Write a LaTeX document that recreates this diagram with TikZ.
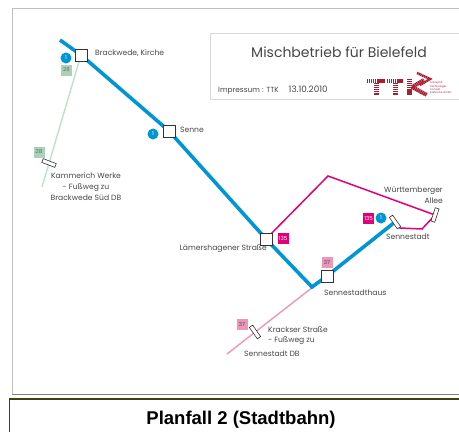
\documentclass[tikz,border=0pt]{standalone}
\usepackage{fontspec}
\setmainfont{Poppins}
\newfontfamily\headfont{Liberation Sans}
\definecolor{linieblau}{RGB}{0,150,214}
\definecolor{liniepink}{RGB}{226,0,122}
\definecolor{liniehell}{RGB}{236,150,185}
\definecolor{liniegruen}{RGB}{190,225,200}
\definecolor{schildgruen}{RGB}{170,210,185}
\definecolor{ttkrot}{RGB}{170,30,50}
\definecolor{textgrau}{RGB}{70,70,70}
\definecolor{rahmenoliv}{RGB}{64,64,10}
\tikzset{
  halt/.style={draw=black!80,fill=white,line width=0.8pt,minimum size=12pt,inner sep=0pt},
  endhalt/.style={draw=black!80,fill=white,line width=0.6pt,minimum width=14pt,minimum height=4pt,inner sep=0pt},
  linie/.style={circle,fill=linieblau,text=white,minimum size=11pt,inner sep=0pt,font=\fontsize{5.5}{5.5}\selectfont},
  schild/.style={minimum size=11pt,inner sep=0pt,font=\fontsize{5.5}{5.5}\selectfont},
  ort/.style={text=textgrau,font=\fontsize{7.6}{11}\selectfont,align=center,inner sep=0pt}
}
\begin{document}
\begin{tikzpicture}[x=1pt,y=-1pt]
\useasboundingbox (0,0) rectangle (459,432);
% Rahmen
\draw[black!25,line width=1.2pt] (459,8.5) -- (12.5,8.5) -- (12.5,394);
\draw[black!50,line width=0.9pt] (12,394) -- (459,394);
\node[draw=black!15,line width=0.7pt,minimum width=255pt,minimum height=66pt,inner sep=0pt] (titelbox) at (337.5,66) {};
\node[text=textgrau,font=\fontsize{14}{16}\selectfont,inner sep=0pt] (titel) at (339,52.5) {Mischbetrieb für Bielefeld};
\node[text=textgrau,font=\fontsize{7.4}{9}\selectfont,anchor=west,inner sep=0pt] (impressum) at (218,90.5) {Impressum : TTK\hspace{10pt}{\fontsize{8.8}{9}\selectfont 13.10.2010}};
% Logo
\begin{scope}[ttkrot,dash pattern=on 1.4pt off 0.5pt]
\draw[line width=4pt] (367,81) -- (385,81);
\draw[line width=5pt] (376,83) -- (376,95);
\draw[line width=4pt] (387,81) -- (403,81);
\draw[line width=5pt] (395,83) -- (395,95);
\draw[line width=5pt] (409,79) -- (409,95);
\draw[line width=4pt] (412,87) -- (427,95);
\draw[line width=4pt] (412,87) -- (424,80);
\draw[line width=2.5pt] (417,73) -- (430,79) -- (420,85);
\end{scope}
\node[text=ttkrot,font=\fontsize{2.6}{3.4}\selectfont,align=left,anchor=west,inner sep=0pt] (ttktext) at (430,88) {Transport\\Technologie-\\Consult\\Karlsruhe GmbH};
% Haltestellen
\coordinate (startblau) at (60,40);
\coordinate (knickblau) at (312,287);
\coordinate (endgruen) at (42,187);
\coordinate (endhell) at (227,354);
\coordinate (pinkoben) at (328,176);
\coordinate (pinkrechts) at (422,229);
\coordinate (pinklinks) at (400,228);
\coordinate (brackwede) at (81,55);
\coordinate (senne) at (169,131);
\coordinate (laemers) at (266,239);
\coordinate (haus) at (327,276);
\coordinate (sennestadt) at (395,222);
\coordinate (wuertt) at (435,215);
% Linien
\draw[liniegruen,line width=1.4pt] (brackwede) -- (endgruen);
\draw[liniehell,line width=1.4pt] (haus) -- (endhell);
\draw[liniepink,line width=1.5pt] (laemers) -- (pinkoben) -- (wuertt) -- (pinkrechts) -- (pinklinks) -- (sennestadt);
\draw[linieblau,line width=3.6pt] (startblau) -- (brackwede) -- (senne) -- (laemers) -- (knickblau) -- (haus) -- (sennestadt);
% Stationen
\node[halt] (hbrackwede) at (brackwede) {};
\node[halt] (hsenne) at (senne) {};
\node[halt] (hlaemers) at (laemers) {};
\node[halt] (hhaus) at (haus) {};
\node[endhalt,rotate=-21] (ekammerich) at (49,163) {};
\node[endhalt,rotate=-55] (esennestadt) at (395,222) {};
\node[endhalt,rotate=72] (ewuertt) at (435,215) {};
\node[endhalt,rotate=-55] (ekrackser) at (255,332) {};
% Liniennummern
\node[linie] (l1a) at (66,58) {1};
\node[linie] (l1b) at (153,134) {1};
\node[linie] (l1c) at (381,218) {1};
\node[schild,fill=schildgruen,text=black!60] (s28a) at (66.5,70) {28};
\node[schild,fill=schildgruen,text=black!60] (s28b) at (39,152) {28};
\node[schild,fill=liniepink,text=white] (s135a) at (283,238) {135};
\node[schild,fill=liniepink,text=white] (s135b) at (368.5,218) {135};
\node[schild,fill=liniehell,text=black!70] (s37a) at (327,262) {37};
\node[schild,fill=liniehell,text=black!70] (s37b) at (242,324) {37};
% Namen
\node[ort,anchor=west] (nbrackwede) at (95,53) {Brackwede, Kirche};
\node[ort,anchor=west] (nsenne) at (180,130) {Senne};
\node[ort] (nkammerich) at (86,187) {Kammerich Werke\\ - Fußweg zu\hspace{13pt}\\Brackwede Süd DB};
\node[ort,anchor=east] (nlaemers) at (267,249) {Lämershagener Straße};
\node[ort,anchor=west] (nhaus) at (324,293) {Sennestadthaus};
\node[ort,anchor=west] (nsennestadt) at (386,237) {Sennestadt};
\node[ort,align=right,anchor=east] (nwuertt) at (443,195) {Württemberger\\Allee\hspace{8pt}};
\node[ort,anchor=west] (nkrackser) at (268,330) {Krackser Straße};
\node[ort,anchor=west] (nfussweg) at (268,341) {- Fußweg zu};
\node[ort,anchor=west] (ndb) at (244,354) {Sennestadt DB};
% Planfall
\draw[rahmenoliv,line width=1.5pt] (9.5,432) -- (9.5,399) -- (459,399);
\node[font=\headfont\bfseries\fontsize{18.5}{20}\selectfont,text=black,inner sep=0pt] (planfall) at (241,420) {Planfall 2 (Stadtbahn)};
\end{tikzpicture}
\end{document}
